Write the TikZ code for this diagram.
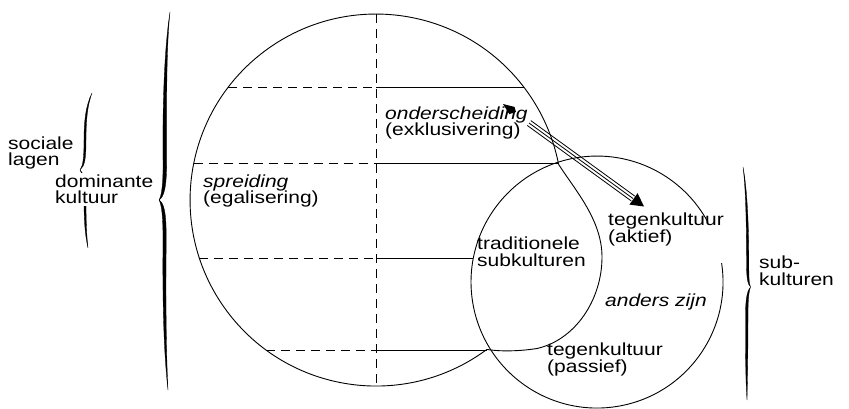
\documentclass[tikz,border=0pt]{standalone}
\usepackage{fontspec}
\setmainfont{Liberation Sans}[FakeStretch=1.2]
\begin{document}
\begin{tikzpicture}[x=1pt,y=-1pt,
  txt/.style={inner sep=0pt, align=left, anchor=base west, font=\fontsize{17.5}{16.5}\selectfont},
  thin line/.style={line width=0.9pt},
  dsh/.style={line width=0.9pt, dash pattern=on 9pt off 6pt},
  brace fill/.style={fill=black, draw=black, line width=0.3pt}]
\fill[white] (0,0) rectangle (849,409);
\useasboundingbox (0,0) rectangle (849,409);

% big circle (dominant culture) with bulge
\draw[thin line] (486.9,349.4) arc[start angle=53.42, end angle=348.97, radius=186];
\draw[thin line] (558.6,164.4) .. controls (575,190) and (602,220) .. (602,257)
  .. controls (602,300) and (575,340) .. (537,348.5)
  .. controls (515,352) and (495,351) .. (486.9,349.4);

% subculture circle with gap
\draw[thin line] (721.6,263.2) arc[start angle=-8.6, end angle=331.8, radius=126];

% grid lines
\draw[dsh] (376,14) -- (376,386);
\draw[dsh] (228.3,87) -- (376,87);
\draw[thin line] (376,87) -- (523.7,87);
\draw[dsh] (193.6,163.5) -- (376,163.5);
\draw[thin line] (376,163.5) -- (558,163.5);
\draw[dsh] (199.3,258) -- (376,258);
\draw[thin line] (376,258) -- (473.3,258);
\draw[dsh] (266,350) -- (376,350);
\draw[thin line] (376,350) -- (487,350);

% triple arrow
\coordinate (h1) at (503,104);
\coordinate (t1) at (529,123);
\coordinate (t2) at (633,198.5);
\coordinate (h2) at (644,206.5);
\foreach \s in {-3,0,3} {
  \draw[line width=0.8pt] ([shift={(-0.588*\s,0.809*\s)}]t1) -- ([shift={(-0.588*\s,0.809*\s)}]t2);
}
\fill (h2) -- (629.4,204.6) -- (637.6,193.2) -- cycle;
\fill (h1) -- (509.3,114.1) -- (516,112) -- (514.5,106.9) -- cycle;

% big brace
\path[brace fill] (170,12) .. controls (164,50) and (162.5,110) .. (163,160)
  .. controls (163.3,185) and (161.5,196) .. (159,200)
  .. controls (161.5,204) and (163,215) .. (163,240)
  .. controls (162.5,300) and (163.5,350) .. (168,390)
  .. controls (166,350) and (165.7,300) .. (166.2,240)
  .. controls (166.4,212) and (164,203) .. (159,200)
  .. controls (164,197) and (166.7,188) .. (166.7,160)
  .. controls (166.7,110) and (166,50) .. (170,12) -- cycle;

% small brace
\path[brace fill] (92,93) .. controls (86,105) and (84,120) .. (84,140)
  .. controls (84,158) and (83,166) .. (80,170)
  .. controls (83,174) and (84,182) .. (84,200)
  .. controls (84,220) and (85,235) .. (88,248)
  .. controls (86.5,235) and (86,220) .. (86,200)
  .. controls (86,182) and (85,174) .. (80,170)
  .. controls (85,166) and (86,158) .. (86,140)
  .. controls (86,120) and (87.5,105) .. (92,93) -- cycle;

% right brace
\path[brace fill] (743,167) .. controls (746,190) and (746.5,230) .. (746.5,262)
  .. controls (746.5,278) and (747.5,284) .. (750.5,287)
  .. controls (747.5,290) and (745.5,298) .. (745.5,315)
  .. controls (745.5,350) and (745.5,380) .. (747,400)
  .. controls (747.5,380) and (748,350) .. (748,315)
  .. controls (748,298) and (749,291) .. (750.5,287)
  .. controls (749,283) and (748.8,278) .. (748.8,262)
  .. controls (748.8,230) and (747.5,190) .. (743,167) -- cycle;

% texts
\node[txt] (sl) at (8,166) {sociale\\lagen};
\node[txt, fill=white, inner sep=1.5pt] (dk) at (53.5,204) {dominante\\kultuur};
\node[txt] (sp) at (203,204) {\textit{spreiding}\\(egalisering)};
\node[txt] (on) at (385,136) {\textit{onderscheiding}\\(exklusivering)};
\node[txt] (tr) at (477,266) {traditionele\\subkulturen};
\node[txt] (ta) at (608,242) {tegenkultuur\\(aktief)};
\node[txt] (az) at (605,306) {\textit{anders zijn}};
\node[txt] (tp) at (547,372) {tegenkultuur\\(passief)};
\node[txt] (sk) at (759,285) {sub-\\kulturen};
\end{tikzpicture}
\end{document}
